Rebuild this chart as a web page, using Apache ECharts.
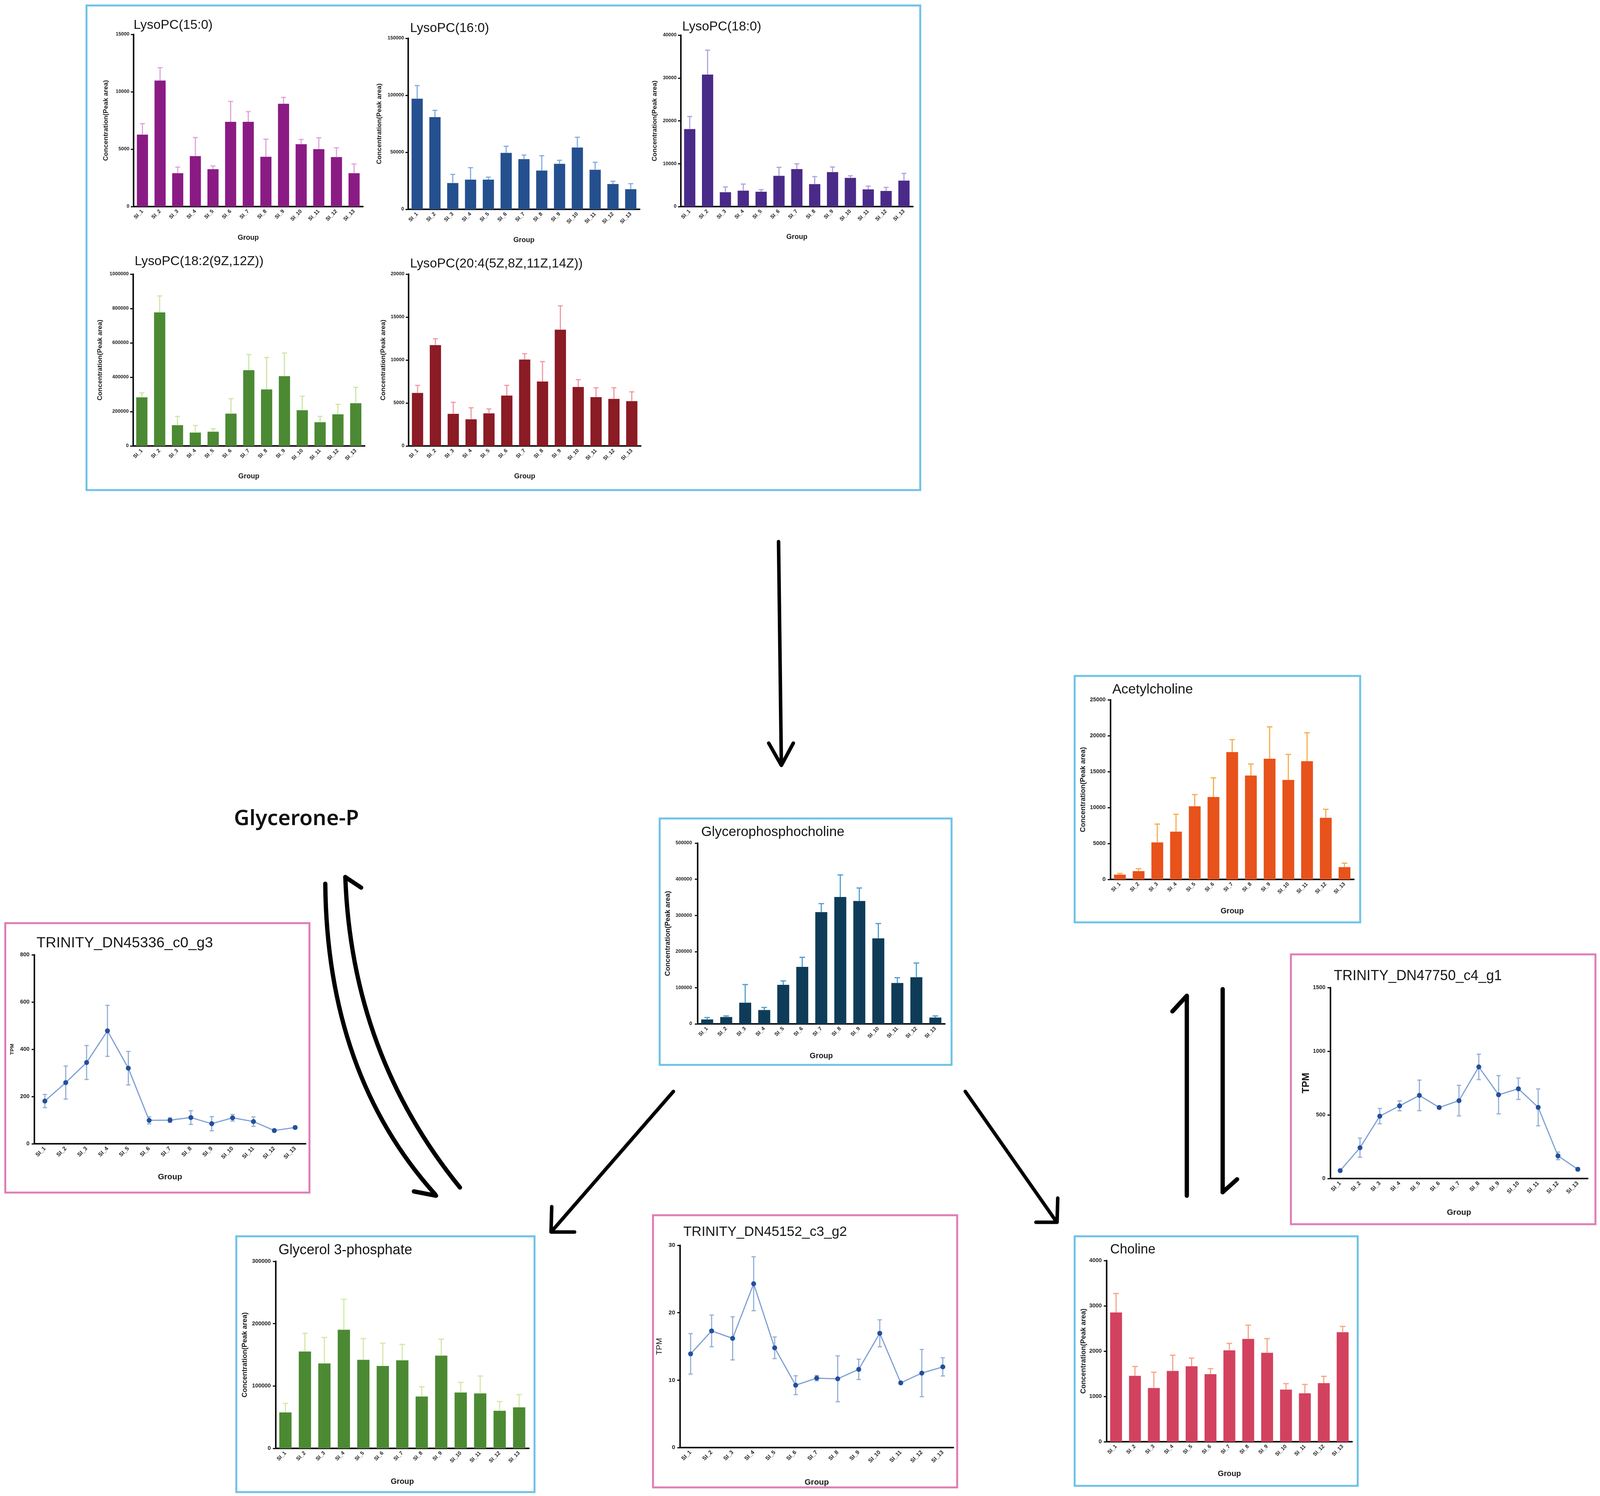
<!DOCTYPE html>
<html><head><meta charset="utf-8">
<script src="https://cdn.jsdelivr.net/npm/echarts@6/dist/echarts.min.js"></script>
<style>html,body{margin:0;padding:0;background:#fff;overflow:hidden}#c{width:100vw;height:100vh}</style>
</head><body><div id="c"></div>
<script>
// ---------------- DATA ----------------
const groups = ['SI_1','SI_2','SI_3','SI_4','SI_5','SI_6','SI_7','SI_8','SI_9','SI_10','SI_11','SI_12','SI_13'];

const lyso150 = [6270,10980,2910,4400,3260,7380,7380,4340,8950,5430,5000,4310,2910];
const lyso150Err = [7220,12100,3440,6010,3540,9160,8270,5870,9510,5850,5990,5120,3710];

const lyso160 = [97000,80800,23000,26000,26000,49500,44000,34000,39900,54200,34700,22200,17600];
const lyso160Err = [108500,86800,30600,36500,28200,55300,47600,47000,43000,63200,41250,24600,22500];

const lyso180 = [18080,30800,3350,3720,3460,7180,8740,5250,8040,6700,4020,3650,6070];
const lyso180Err = [21020,36500,4580,5250,3940,9150,9970,7000,9230,7180,4760,4470,7740];

const lyso182 = [283000,777000,121000,78000,83000,188000,441000,329000,406000,208000,138000,184000,249000];
const lyso182Err = [309000,873000,172000,119000,100000,275000,532000,515000,541000,289000,172000,242000,341000];

const lyso204 = [6170,11740,3740,3100,3800,5860,10060,7500,13530,6860,5680,5480,5220];
const lyso204Err = [7050,12480,5080,4440,4310,7050,10740,9820,16310,7720,6770,6770,6300];

const gpc = [12300,19000,58600,38300,107900,157700,309000,351000,340000,236600,113200,129100,17600];
const gpcErr = [17600,22000,108800,45400,118900,184100,332600,411900,375800,277500,127700,168300,22000];

const ach = [665,1150,5150,6650,10180,11470,17720,14460,16790,13840,16460,8580,1710];
const achErr = [843,1490,7700,9070,11800,14130,19450,16060,21230,17390,20410,9760,2260];

const g3p = [57600,155300,136200,190300,142000,132200,141200,83100,148700,89500,88100,60300,65800];
const g3pErr = [72200,184500,177900,238900,176000,168600,166700,98800,175200,105700,116000,75100,86300];

const choline = [2853,1455,1186,1563,1667,1491,2018,2269,1964,1151,1068,1294,2419];
const cholineErr = [3272,1660,1534,1910,1846,1613,2172,2573,2276,1283,1265,1444,2545];

const dn45336 = [181,259,344,478,320,99,100,111,85,110,94,56,69];
const dn45336Sd = [28,70,72,108,71,15,10,29,30,14,20,6,5];

const dn47750 = [62,242,490,571,653,558,612,877,658,705,559,178,73];
const dn47750Sd = [8,75,60,39,120,10,120,100,150,84,145,30,12];

const dn45152 = [13.9,17.3,16.2,24.3,14.8,9.25,10.3,10.2,11.6,16.95,9.6,11.05,11.97];
const dn45152Sd = [3.0,2.35,3.2,4.0,1.6,1.4,0.4,3.4,1.5,2.0,0.2,3.5,1.35];

// ---------------- LAYOUT (reference pixel space 4550 x 3831) ----------------
const SX = (window.innerWidth || 4550) / 4550;
const SY = (window.innerHeight || 3831) / 3831;
const X = v => v * SX, Y = v => v * SY, F = v => Math.round(v * SX * 10) / 10;

const FONT = 'Liberation Sans, Arial, sans-serif';
const CONC = 'Concentration(Peak area)';
const panels = [
 {title:'LysoPC(15:0)', kind:'bar', vals:lyso150, err:lyso150Err, color:'#8a1b84', ec:'#e3a3d9', max:15000, step:5000,
  g:[380,88,652,441], t:[380,65,37], yn:CONC, yng:69, ynfs:19, ylfs:14, lm:12, xng:71, xnfs:20, xlfs:15},
 {title:'LysoPC(16:0)', kind:'bar', vals:lyso160, err:lyso160Err, color:'#25508f', ec:'#86aee0', max:150000, step:50000,
  g:[1161,98,658,438], t:[1166,73,37], yn:CONC, yng:73, ynfs:19, ylfs:14, lm:12, xng:70, xnfs:20, xlfs:15},
 {title:'LysoPC(18:0)', kind:'bar', vals:lyso180, err:lyso180Err, color:'#4a2a88', ec:'#b0a4dc', max:40000, step:10000,
  g:[1936,90,660,439], t:[1940,69,37], yn:CONC, yng:64, ynfs:19, ylfs:14, lm:12, xng:69, xnfs:20, xlfs:15},
 {title:'LysoPC(18:2(9Z,12Z))', kind:'bar', vals:lyso182, err:lyso182Err, color:'#4b8a33', ec:'#cfe6a6', max:1000000, step:200000,
  g:[378,702,659,440], t:[383,670,37], yn:CONC, yng:84, ynfs:19, ylfs:14, lm:12, xng:69, xnfs:20, xlfs:15},
 {title:'LysoPC(20:4(5Z,8Z,11Z,14Z))', kind:'bar', vals:lyso204, err:lyso204Err, color:'#8b1b24', ec:'#f09aa6', max:20000, step:5000,
  g:[1162,702,660,440], t:[1166,676,37], yn:CONC, yng:63, ynfs:19, ylfs:14, lm:12, xng:69, xnfs:20, xlfs:15},
 {title:'Glycerophosphocholine', kind:'bar', vals:gpc, err:gpcErr, color:'#0e3c58', ec:'#4d9fcf', max:500000, step:100000,
  g:[1984,2159,703,463], t:[1994,2131,39], yn:CONC, yng:74, ynfs:20, ylfs:14, lm:16, xng:73, xnfs:22, xlfs:15},
 {title:'Acetylcholine', kind:'bar', vals:ach, err:achErr, color:'#e8521b', ec:'#f6ad4e', max:25000, step:5000,
  g:[3158,1792,692,460], t:[3163,1766,39], yn:CONC, yng:68, ynfs:20, ylfs:16, lm:14, xng:72, xnfs:22, xlfs:15},
 {title:'TRINITY_DN45336_c0_g3', kind:'line', vals:dn45336, err:dn45336Sd, max:800, step:200,
  g:[98,2445,771,484], t:[104,2416,42], yn:'TPM', yng:56, ynfs:15, ylfs:16, lm:14, xng:75, xnfs:23, xlfs:16},
 {title:'TRINITY_DN47750_c4_g1', kind:'line', vals:dn47750, err:dn47750Sd, max:1500, step:500,
  g:[3783,2529,732,489], t:[3793,2500,40], yn:'TPM', yng:54, ynfs:28, ylfs:16, lm:14, xng:77, xnfs:23, xlfs:16},
 {title:'Glycerol 3-phosphate', kind:'bar', vals:g3p, err:g3pErr, color:'#4b8a33', ec:'#d3e9a6', max:300000, step:100000,
  g:[784,3230,720,479], t:[792,3202,40], yn:CONC, yng:78, ynfs:20, ylfs:16, lm:14, xng:76, xnfs:22, xlfs:15},
 {title:'TRINITY_DN45152_c3_g2', kind:'line', vals:dn45152, err:dn45152Sd, max:30, step:10, ynNormal:true,
  g:[1934,3189,777,518], t:[1943,3155,39], yn:'TPM', yng:47, ynfs:23, ylfs:17, lm:14, xng:79, xnfs:23, xlfs:16},
 {title:'Choline', kind:'bar', vals:choline, err:cholineErr, color:'#d2425f', ec:'#f5a585', max:4000, step:1000,
  g:[3147,3228,698,464], t:[3157,3201,38], yn:CONC, yng:55, ynfs:20, ylfs:16, lm:14, xng:73, xnfs:22, xlfs:15}
];

const BLUE = '#6fc2e6', PINK = '#e07db5';
const boxes = [
 [246,14,2371,1241,BLUE],[1876,2096,830,631,BLUE],[3056,1731,812,631,BLUE],
 [15,2364,865,690,PINK],[3671,2444,866,691,PINK],[672,3166,848,655,BLUE],
 [1857,3112,865,697,PINK],[3056,3166,805,639,BLUE]
];

// ---------------- BUILD ----------------
function errItem(color, capHalf, lw, both) {
  return function (params, api) {
    const x = api.value(0), lo = api.value(1), hi = api.value(2);
    const a = api.coord([x, lo]), b = api.coord([x, hi]);
    const st = {stroke: color, lineWidth: lw};
    const ch = [
      {type:'line', shape:{x1:a[0], y1:a[1], x2:b[0], y2:b[1]}, style:st},
      {type:'line', shape:{x1:b[0]-capHalf, y1:b[1], x2:b[0]+capHalf, y2:b[1]}, style:st}
    ];
    if (both) ch.push({type:'line', shape:{x1:a[0]-capHalf, y1:a[1], x2:a[0]+capHalf, y2:a[1]}, style:st});
    return {type:'group', children: ch};
  };
}

const grid = [], xAxis = [], yAxis = [], series = [], title = [];
const AXC = '#111';
panels.forEach((p, i) => {
  grid.push({left:X(p.g[0]), top:Y(p.g[1]), width:X(p.g[2]), height:Y(p.g[3])});
  xAxis.push({type:'category', gridIndex:i, data:groups, boundaryGap:true,
    name:'Group', nameLocation:'middle', nameGap:Y(p.xng),
    nameTextStyle:{fontSize:F(p.xnfs), fontWeight:'bold', color:'#1a1a1a', fontFamily:FONT},
    axisLine:{lineStyle:{color:AXC, width:4}},
    axisTick:{alignWithLabel:true, length:Y(8), lineStyle:{color:AXC, width:3}},
    axisLabel:{rotate:45, interval:0, margin:Y(10), fontSize:F(p.xlfs), fontWeight:'bold', color:'#222', fontFamily:FONT}
  });
  yAxis.push({type:'value', gridIndex:i, min:0, max:p.max, interval:p.step,
    name:p.yn, nameLocation:'middle', nameGap:X(p.yng),
    nameTextStyle:{fontSize:F(p.ynfs), fontWeight:p.ynNormal?'normal':'bold', color:'#1a1a1a', fontFamily:FONT},
    axisLine:{show:true, lineStyle:{color:AXC, width:4}},
    axisTick:{show:true, length:X(8), lineStyle:{color:AXC, width:3}},
    splitLine:{show:false},
    axisLabel:{fontSize:F(p.ylfs), fontWeight:'bold', color:'#222', margin:X(p.lm), fontFamily:FONT,
      formatter: v => String(v)}
  });
  const fs = F(p.t[2]);
  title.push({text:p.title, left:X(p.t[0]), top:Y(p.t[1]) - fs*0.6, padding:0,
    textStyle:{fontSize:fs, lineHeight:fs*1.2, fontWeight:'normal', color:'#161616', fontFamily:FONT}});
  if (p.kind === 'bar') {
    series.push({type:'bar', xAxisIndex:i, yAxisIndex:i, data:p.vals, barWidth:'63%',
      itemStyle:{color:p.color}, z:2, silent:true});
    series.push({type:'custom', xAxisIndex:i, yAxisIndex:i, z:3, silent:true,
      renderItem: errItem(p.ec, X(i < 5 ? 7 : 8), 3, false),
      encode:{x:0, y:[1,2]},
      data: p.vals.map((v, k) => [k, v, p.err[k]])});
  } else {
    series.push({type:'custom', xAxisIndex:i, yAxisIndex:i, z:2, silent:true,
      renderItem: errItem('#97b0d8', X(6), 3, true),
      encode:{x:0, y:[1,2]},
      data: p.vals.map((v, k) => [k, v - p.err[k], v + p.err[k]])});
    series.push({type:'line', xAxisIndex:i, yAxisIndex:i, data:p.vals, z:3, silent:true,
      symbol:'circle', symbolSize:X(14), itemStyle:{color:'#22509b'},
      lineStyle:{color:'#7e9fd6', width:3}});
  }
});
const gfs = F(61);
title.push({text:'Glycerone-P', left:X(665), top:Y(2098) - gfs*0.62, padding:0,
  textStyle:{fontSize:gfs, lineHeight:gfs*1.22, fontWeight:600, color:'#111', fontFamily:'Noto Sans, Open Sans, sans-serif'}});

const graphic = [];
boxes.forEach(b => graphic.push({type:'rect', silent:true, z:10,
  shape:{x:X(b[0]), y:Y(b[1]), width:X(b[2]), height:Y(b[3])},
  style:{fill:'rgba(0,0,0,0)', stroke:b[4], lineWidth:5}}));
const AS = {stroke:'#000', lineWidth:9, fill:'rgba(0,0,0,0)', lineCap:'round', lineJoin:'round'};
const AS2 = Object.assign({}, AS, {lineWidth:11});
const P = pts => pts.map(q => [X(q[0]), Y(q[1])]);
function line(x1,y1,x2,y2,st){ graphic.push({type:'line', silent:true, z:10, shape:{x1:X(x1), y1:Y(y1), x2:X(x2), y2:Y(y2)}, style:st}); }
function poly(pts,st){ graphic.push({type:'polyline', silent:true, z:10, shape:{points:P(pts)}, style:st}); }
function curve(x1,y1,cx,cy,x2,y2,st){ graphic.push({type:'bezierCurve', silent:true, z:10, shape:{x1:X(x1), y1:Y(y1), cpx1:X(cx), cpy1:Y(cy), x2:X(x2), y2:Y(y2)}, style:st}); }
// main down arrow
line(2214,1387,2222,1958,AS);
poly([[2186,1903],[2222,1960],[2256,1903]],AS);
// Glycerone-P <-> Glycerol 3-phosphate harpoons
curve(925,2263,930,2750,1237,3058,AS2);
poly([[1177,3051],[1240,3062]],AS2);
curve(1308,3041,1000,2700,982,2246,AS2);
poly([[982,2246],[1027,2273]],AS2);
// GPC -> G3P
line(1915,2795,1570,3152,AS);
poly([[1569,3090],[1567,3155],[1634,3155]],AS);
// GPC -> Choline
line(2745,2795,3003,3127,AS);
poly([[2946,3130],[3006,3130],[3008,3068]],AS);
// Acetylcholine <-> Choline harpoons
line(3375,3062,3375,2552,AS2);
poly([[3375,2550],[3334,2590]],AS2);
line(3477,2533,3477,3053,AS2);
poly([[3477,3053],[3518,3020]],AS2);

const chart = echarts.init(document.getElementById('c'));
chart.setOption({backgroundColor:'#ffffff', animation:false, title, grid, xAxis, yAxis, series, graphic});
</script>
</body></html>
